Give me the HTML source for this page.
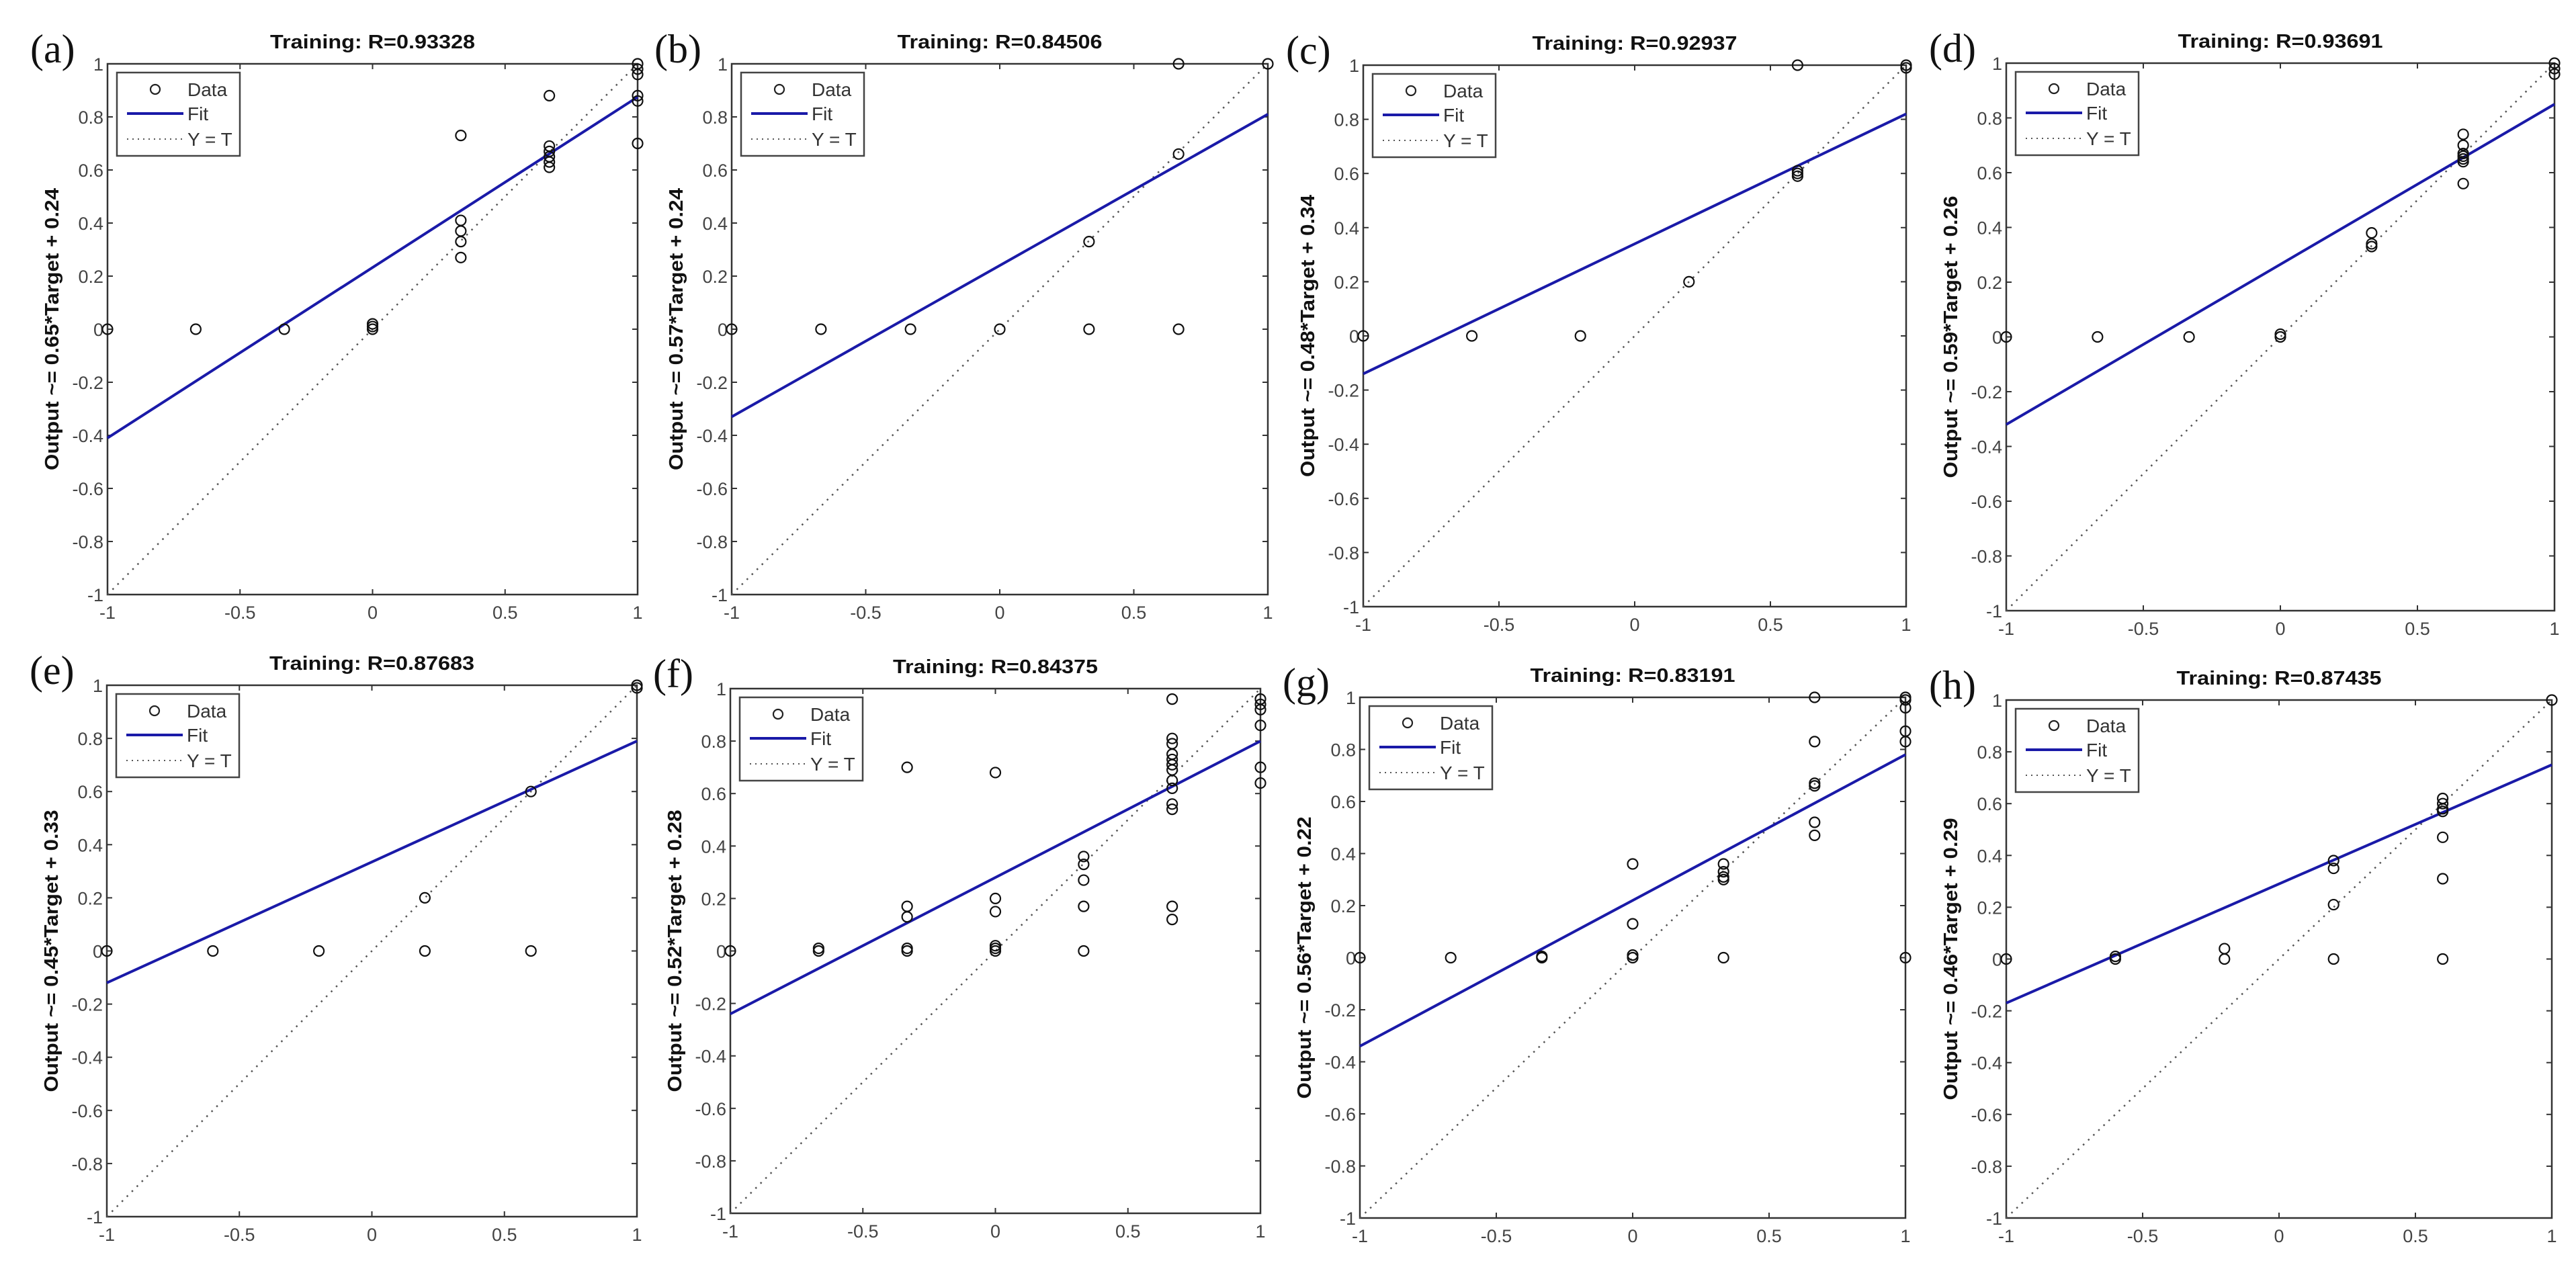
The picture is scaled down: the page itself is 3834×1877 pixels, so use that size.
<!DOCTYPE html>
<html><head><meta charset="utf-8"><style>
html,body{margin:0;padding:0;background:#fff;}
svg{display:block;}
text{font-family:"Liberation Sans",Arial,sans-serif;}
</style></head><body>
<svg id="fig" width="3834" height="1877" viewBox="0 0 3834 1877" xmlns="http://www.w3.org/2000/svg"></svg>
<script>
// ---- data (target x, output y) per panel ----
const aTargets=[-1,-0.667,-0.333,0,0,0,0.333,0.333,0.333,0.333,0.333,0.667,0.667,0.667,0.667,0.667,0.667,1,1,1,1,1,1];
const aOutputs=[0,0,0,0,0.02,0.01,0.73,0.41,0.37,0.33,0.27,0.88,0.69,0.67,0.65,0.63,0.61,1,0.98,0.96,0.88,0.86,0.70];
const bTargets=[-1,-0.667,-0.333,0,0.333,0.667,0.333,0.667,0.667,1];
const bOutputs=[0,0,0,0,0,0,0.33,0.66,1,1];
const cTargets=[-1,-0.6,-0.2,0.2,0.6,0.6,0.6,0.6,1,1];
const cOutputs=[0,0,0,0.2,0.6,0.61,0.59,1,1,0.99];
const dTargets=[-1,-0.667,-0.333,0,0,0.333,0.333,0.333,0.667,0.667,0.667,0.667,0.667,0.667,0.667,1,1,1];
const dOutputs=[0,0,0,0,0.01,0.38,0.34,0.33,0.74,0.70,0.67,0.66,0.65,0.64,0.56,1,0.98,0.96];
const eTargets=[-1,-0.6,-0.2,0.2,0.2,0.6,0.6,1,1];
const eOutputs=[0,0,0,0,0.2,0,0.6,1,0.99];
const fTargets=[-1,-0.667,-0.667,-0.333,-0.333,-0.333,-0.333,-0.333,0,0,0,0,0,0,0.333,0.333,0.333,0.333,0.333,0.667,0.667,0.667,0.667,0.667,0.667,0.667,0.667,0.667,0.667,0.667,0.667,0.667,1,1,1,1,1,1];
const fOutputs=[0,0,0.01,0.70,0.17,0.13,0.01,0,0.68,0.2,0.15,0.02,0.01,0,0.36,0.33,0.27,0.17,0,0.96,0.81,0.79,0.75,0.73,0.71,0.69,0.65,0.62,0.56,0.54,0.17,0.12,0.96,0.94,0.92,0.86,0.70,0.64];
const gTargets=[-1,-0.667,-0.333,-0.333,0,0,0,0,0.333,0.333,0.333,0.333,0.333,0.667,0.667,0.667,0.667,0.667,0.667,1,1,1,1,1,1];
const gOutputs=[0,0,0,0.005,0.36,0.13,0.01,0,0.36,0.33,0.31,0.30,0,1,0.83,0.67,0.66,0.52,0.47,1,0.99,0.96,0.87,0.83,0];
const hTargets=[-1,-0.6,-0.6,-0.2,-0.2,0.2,0.2,0.2,0.2,0.6,0.6,0.6,0.6,0.6,0.6,0.6,1];
const hOutputs=[0,0,0.01,0.04,0,0.38,0.35,0.21,0,0.62,0.60,0.58,0.57,0.47,0.31,0,1];
// fit line values at target=-1 and target=1
const fitAtMinus1=[-0.41,-0.33,-0.14,-0.32,-0.12,-0.24,-0.34,-0.17];
const fitAtPlus1=[0.875,0.81,0.82,0.85,0.79,0.80,0.78,0.75];
const titles=["Training: R=0.93328","Training: R=0.84506","Training: R=0.92937","Training: R=0.93691","Training: R=0.87683","Training: R=0.84375","Training: R=0.83191","Training: R=0.87435"];
const yLabels=["Output ~= 0.65*Target + 0.24","Output ~= 0.57*Target + 0.24","Output ~= 0.48*Target + 0.34","Output ~= 0.59*Target + 0.26","Output ~= 0.45*Target + 0.33","Output ~= 0.52*Target + 0.28","Output ~= 0.56*Target + 0.22","Output ~= 0.46*Target + 0.29"];
const panelLetters=["(a)","(b)","(c)","(d)","(e)","(f)","(g)","(h)"];
const xTicks=[-1,-0.5,0,0.5,1];
const xTickLabels=["-1","-0.5","0","0.5","1"];
const yTicks=[-1,-0.8,-0.6,-0.4,-0.2,0,0.2,0.4,0.6,0.8,1];
const yTickLabels=["-1","-0.8","-0.6","-0.4","-0.2","0","0.2","0.4","0.6","0.8","1"];
const allTargets=[aTargets,bTargets,cTargets,dTargets,eTargets,fTargets,gTargets,hTargets];
const allOutputs=[aOutputs,bOutputs,cOutputs,dOutputs,eOutputs,fOutputs,gOutputs,hOutputs];

// ---- layout (pixel boxes of axes) ----
const boxes=[
 {l:160,r:949,t:95,b:885},{l:1089,r:1887,t:95,b:885},{l:2029,r:2837,t:97,b:903},{l:2986,r:3802,t:94,b:909},
 {l:159,r:948,t:1020,b:1811},{l:1087,r:1876,t:1025,b:1806},{l:2024,r:2836,t:1038,b:1813},{l:2986,r:3798,t:1042,b:1813}
];
const NS="http://www.w3.org/2000/svg";
const svg=document.getElementById('fig');
function mk(tag,attrs,parent){const e=document.createElementNS(NS,tag);for(const k in attrs)e.setAttribute(k,attrs[k]);(parent||svg).appendChild(e);return e;}

boxes.forEach((B,i)=>{
  const g=mk('g',{});
  
  
  const sx=v=>B.l+(v+1)/2*(B.r-B.l);
  const sy=v=>B.b-(v+1)/2*(B.b-B.t);
  // axes box
  const fr=mk('rect',{x:B.l,y:B.t,width:B.r-B.l,height:B.b-B.t,fill:'#fff',stroke:'#333','stroke-width':2.5},g);
  
  
  // ticks
  xTicks.forEach((v,k)=>{
    const x=sx(v);
    mk('line',{x1:x,y1:B.b,x2:x,y2:B.b-8,stroke:'#333','stroke-width':2},g);
    mk('line',{x1:x,y1:B.t,x2:x,y2:B.t+8,stroke:'#333','stroke-width':2},g);
    const t=mk('text',{x:x,y:B.b+36,'font-size':27,fill:'#444','text-anchor':'middle'},g);
    t.textContent=xTickLabels[k];
    
    
  });
  yTicks.forEach((v,k)=>{
    const y=sy(v);
    mk('line',{x1:B.l,y1:y,x2:B.l+8,y2:y,stroke:'#333','stroke-width':2},g);
    mk('line',{x1:B.r,y1:y,x2:B.r-8,y2:y,stroke:'#333','stroke-width':2},g);
    const t=mk('text',{x:B.l-6,y:y+10,'font-size':27,fill:'#444','text-anchor':'end'},g);
    t.textContent=yTickLabels[k];
    
    
  });
  // Y=T dotted
  const d=mk('line',{x1:sx(-1),y1:sy(-1),x2:sx(1),y2:sy(1),stroke:'#555','stroke-width':2.5,'stroke-dasharray':'2.5 8'},g);
  
  
  // fit
  const f=mk('line',{x1:sx(-1),y1:sy(fitAtMinus1[i]),x2:sx(1),y2:sy(fitAtPlus1[i]),stroke:'#1a1aa8','stroke-width':4},g);
  
  
  // points
  allTargets[i].forEach((tv,k)=>{
    const c=mk('circle',{cx:sx(tv),cy:sy(allOutputs[i][k]),r:7.5,fill:'none',stroke:'#111','stroke-width':2.2},g);
    
    
  });
  // legend
  const lx=B.l+14, ly=B.t+13;
  const lg=mk('g',{},g);
  
  
  mk('rect',{x:lx,y:ly,width:183,height:124,fill:'#fff',stroke:'#444','stroke-width':2.5},lg);
  mk('circle',{cx:lx+57,cy:ly+25,r:7,fill:'none',stroke:'#222','stroke-width':2.2},lg);
  mk('line',{x1:lx+15,y1:ly+61,x2:lx+99,y2:ly+61,stroke:'#1a1aa8','stroke-width':4},lg);
  mk('line',{x1:lx+15,y1:ly+99,x2:lx+99,y2:ly+99,stroke:'#555','stroke-width':2,'stroke-dasharray':'2 6'},lg);
  [['Data',25],['Fit',61],['Y = T',99]].forEach(([s,dy])=>{
    const t=mk('text',{x:lx+105,y:ly+dy+10,'font-size':28,fill:'#333'},lg);
    t.textContent=s;
    
    
  });
  // title
  const tt=mk('text',{x:(B.l+B.r)/2,y:B.t-23,'font-size':29,'font-weight':'bold',fill:'#111','text-anchor':'middle',textLength:305,lengthAdjust:'spacingAndGlyphs'},g);
  tt.textContent=titles[i];
  
  
  // y title
  const cy=(B.t+B.b)/2;
  const yt=mk('text',{x:B.l-73,y:cy,'font-size':29,'font-weight':'bold',fill:'#111','text-anchor':'middle',transform:'rotate(-90 '+(B.l-73)+' '+cy+')',textLength:420,lengthAdjust:'spacingAndGlyphs'},g);
  yt.textContent=yLabels[i];
  
  
  // panel letter
  const pl=mk('text',{x:B.l-115,y:B.t-2,'font-size':60,fill:'#111',style:'font-family:"Liberation Serif",serif'},g);
  pl.textContent=panelLetters[i];
  
  
});
</script>
</body></html>
